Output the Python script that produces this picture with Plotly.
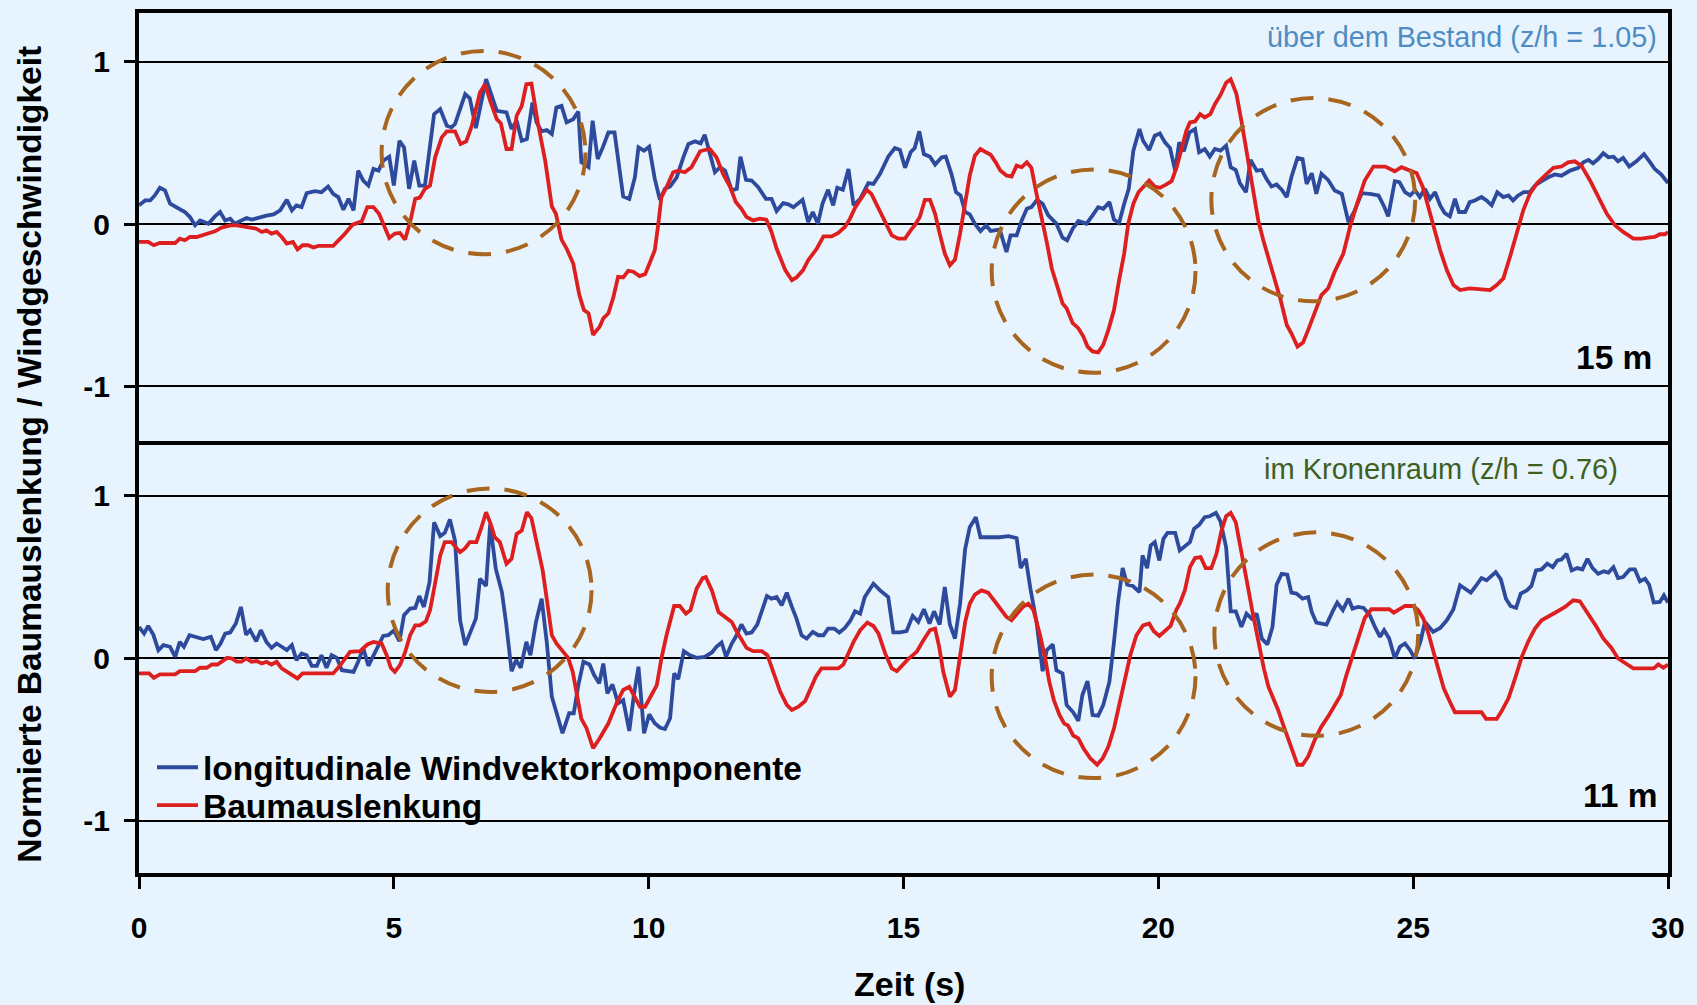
import plotly.graph_objects as go

# ---------------- data ----------------
# upper panel: above the stand (15 m)
top_wind_t = [0.0, 0.12, 0.22, 0.31, 0.41, 0.51, 0.61, 0.74, 0.90, 1.0, 1.1, 1.2, 1.36, 1.49, 1.59, 1.69, 1.79, 1.88, 1.98, 2.11,
              2.21, 2.37, 2.5, 2.64, 2.77, 2.9, 3.0, 3.09, 3.19, 3.29, 3.45, 3.58, 3.71, 3.81, 3.91, 4.01, 4.11, 4.21, 4.3, 4.4,
              4.5, 4.6, 4.7, 4.79, 4.91, 5.0, 5.11, 5.2, 5.3, 5.4, 5.5, 5.61, 5.79, 5.91, 6.04, 6.13, 6.2, 6.4, 6.49, 6.61,
              6.81, 7.02, 7.21, 7.31, 7.41, 7.51, 7.61, 7.72, 7.8, 7.9, 8.0, 8.1, 8.19, 8.29, 8.39, 8.52, 8.62, 8.68, 8.82, 8.90,
              9.0, 9.1, 9.21, 9.33, 9.5, 9.62, 9.73, 9.8, 9.91, 10.01, 10.12, 10.22, 10.32, 10.42, 10.55, 10.68, 10.78, 10.91, 11.02, 11.1,
              11.2, 11.3, 11.4, 11.5, 11.63, 11.73, 11.8, 11.91, 12.02, 12.15, 12.3, 12.41, 12.51, 12.64, 12.74, 12.84, 13.02, 13.13, 13.22, 13.32,
              13.41, 13.52, 13.62, 13.7, 13.81, 13.92, 14.02, 14.15, 14.31, 14.41, 14.54, 14.7, 14.83, 14.93, 15.03, 15.14, 15.22, 15.31, 15.4, 15.52,
              15.62, 15.75, 15.83, 15.94, 16.03, 16.12, 16.21, 16.30, 16.4, 16.51, 16.62, 16.71, 16.89, 17.02, 17.1, 17.22, 17.32, 17.42, 17.51, 17.62,
              17.73, 17.84, 18.0, 18.12, 18.21, 18.32, 18.43, 18.59, 18.71, 18.82, 18.92, 19.04, 19.13, 19.23, 19.33, 19.42, 19.51, 19.63, 19.70, 19.82,
              19.93, 20.03, 20.13, 20.23, 20.33, 20.41, 20.50, 20.61, 20.72, 20.80, 20.91, 21.01, 21.11, 21.22, 21.33, 21.42, 21.52, 21.6, 21.72, 21.81,
              21.93, 22.03, 22.12, 22.22, 22.32, 22.42, 22.52, 22.61, 22.73, 22.83, 22.91, 23.01, 23.1, 23.2, 23.33, 23.46, 23.6, 23.73, 23.84, 23.99,
              24.15, 24.32, 24.43, 24.51, 24.64, 24.73, 24.84, 24.94, 25.04, 25.13, 25.23, 25.33, 25.43, 25.53, 25.62, 25.72, 25.82, 25.9, 26.02, 26.11,
              26.21, 26.34, 26.44, 26.54, 26.65, 26.77, 26.87, 26.96, 27.06, 27.17, 27.29, 27.39, 27.52, 27.65, 27.78, 27.91, 28.08, 28.24, 28.34, 28.44,
              28.53, 28.63, 28.73, 28.83, 28.93, 29.02, 29.12, 29.24, 29.38, 29.53, 29.65, 29.74, 29.87, 30.0]
top_wind = [0.115, 0.145, 0.145, 0.176, 0.223, 0.207, 0.125, 0.104, 0.074, 0.043, -0.008, 0.022, 0.002, 0.047, 0.074, 0.022, 0.033, 0.002, 0.018, 0.037,
            0.027, 0.043, 0.051, 0.059, 0.084, 0.149, 0.084, 0.115, 0.104, 0.19, 0.202, 0.196, 0.231, 0.186, 0.166, 0.088, 0.155, 0.084, 0.329, 0.268,
            0.237, 0.339, 0.329, 0.39, 0.415, 0.237, 0.513, 0.472, 0.217, 0.39, 0.237, 0.237, 0.677, 0.708, 0.605, 0.595, 0.616, 0.80, 0.775, 0.591,
            0.892, 0.697, 0.687, 0.585, 0.636, 0.513, 0.523, 0.748, 0.626, 0.571, 0.579, 0.554, 0.718, 0.728, 0.626, 0.646, 0.693, 0.38, 0.35, 0.636,
            0.40, 0.472, 0.564, 0.564, 0.17, 0.155, 0.288, 0.472, 0.452, 0.476, 0.278, 0.149, 0.217, 0.231, 0.288, 0.411, 0.493, 0.509, 0.497, 0.55,
            0.431, 0.319, 0.35, 0.329, 0.207, 0.217, 0.415, 0.272, 0.268, 0.227, 0.155, 0.155, 0.08, 0.129, 0.121, 0.104, 0.149, 0.012, 0.074, 0.002,
            0.125, 0.211, 0.115, 0.223, 0.211, 0.339, 0.115, 0.155, 0.252, 0.247, 0.309, 0.415, 0.468, 0.456, 0.346, 0.442, 0.468, 0.571, 0.431, 0.415,
            0.366, 0.411, 0.415, 0.309, 0.196, 0.176, 0.074, 0.059, 0.002, -0.043, -0.008, -0.043, -0.035, -0.172, -0.07, -0.07, 0.022, 0.094, 0.104, 0.149,
            0.125, 0.053, 0.002, -0.084, -0.10, -0.029, 0.018, 0.002, 0.053, 0.104, 0.094, 0.135, 0.027, 0.006, 0.125, 0.217, 0.452, 0.585, 0.513, 0.456,
            0.544, 0.558, 0.503, 0.468, 0.329, 0.503, 0.448, 0.564, 0.585, 0.442, 0.462, 0.415, 0.462, 0.452, 0.483, 0.35, 0.333, 0.252, 0.196, 0.395,
            0.329, 0.333, 0.278, 0.231, 0.243, 0.211, 0.166, 0.288, 0.407, 0.40, 0.247, 0.313, 0.186, 0.309, 0.272, 0.207, 0.186, 0.012, 0.074, 0.19,
            0.186, 0.176, 0.108, 0.047, 0.264, 0.258, 0.196, 0.176, 0.207, 0.166, 0.217, 0.155, 0.196, 0.115, 0.067, 0.047, 0.155, 0.074, 0.074, 0.135,
            0.145, 0.166, 0.145, 0.115, 0.196, 0.166, 0.176, 0.145, 0.176, 0.196, 0.196, 0.237, 0.264, 0.288, 0.305, 0.298, 0.329, 0.346, 0.38, 0.395,
            0.374, 0.40, 0.436, 0.411, 0.415, 0.386, 0.407, 0.354, 0.386, 0.431, 0.38, 0.339, 0.305, 0.252]

top_tree_t = [0.0, 0.18, 0.29, 0.41, 0.71, 0.80, 0.90, 1.0, 1.13, 1.33, 1.49, 1.62, 1.79, 1.92, 2.05, 2.18, 2.3, 2.41, 2.5, 2.6,
              2.7, 2.8, 2.9, 3.02, 3.11, 3.21, 3.32, 3.42, 3.52, 3.81, 4.01, 4.19, 4.37, 4.48, 4.6, 4.71, 4.91, 5.02, 5.12, 5.22,
              5.32, 5.42, 5.51, 5.61, 5.71, 5.81, 5.94, 6.04, 6.2, 6.31, 6.42, 6.53, 6.69, 6.79, 6.89, 7.02, 7.1, 7.21, 7.31, 7.41,
              7.51, 7.6, 7.7, 7.83, 7.97, 8.1, 8.18, 8.29, 8.39, 8.52, 8.64, 8.73, 8.82, 8.91, 9.04, 9.11, 9.21, 9.31, 9.4, 9.5,
              9.6, 9.7, 9.82, 9.93, 10.03, 10.12, 10.19, 10.25, 10.35, 10.48, 10.58, 10.71, 10.84, 11.01, 11.1, 11.2, 11.33, 11.46, 11.6, 11.71,
              11.82, 11.92, 12.05, 12.18, 12.31, 12.41, 12.51, 12.68, 12.81, 12.9, 13.03, 13.13, 13.3, 13.43, 13.59, 13.72, 13.85, 13.95, 14.05, 14.15,
              14.28, 14.37, 14.51, 14.64, 14.77, 14.9, 15.03, 15.14, 15.22, 15.32, 15.42, 15.52, 15.62, 15.71, 15.81, 15.91, 16.01, 16.11, 16.21, 16.30,
              16.4, 16.51, 16.62, 16.71, 16.81, 16.9, 17.02, 17.12, 17.22, 17.32, 17.42, 17.51, 17.61, 17.71, 17.81, 17.91, 18.02, 18.12, 18.2, 18.32,
              18.43, 18.53, 18.61, 18.71, 18.82, 18.92, 19.02, 19.13, 19.23, 19.33, 19.41, 19.51, 19.61, 19.7, 19.82, 19.93, 20.03, 20.15, 20.26, 20.36,
              20.46, 20.55, 20.62, 20.72, 20.82, 20.91, 21.02, 21.11, 21.22, 21.33, 21.42, 21.53, 21.63, 21.73, 21.85, 21.96, 22.06, 22.18, 22.29, 22.40,
              22.52, 22.61, 22.73, 22.84, 22.94, 23.07, 23.2, 23.33, 23.46, 23.63, 23.76, 23.89, 24.05, 24.22, 24.45, 24.64, 24.77, 24.94, 25.07, 25.19,
              25.3, 25.39, 25.53, 25.66, 25.79, 25.92, 26.11, 26.34, 26.51, 26.64, 26.77, 26.9, 27.03, 27.16, 27.29, 27.43, 27.62, 27.75, 27.91, 28.04,
              28.17, 28.3, 28.47, 28.63, 28.8, 28.96, 29.12, 29.32, 29.48, 29.61, 29.74, 29.84, 29.94, 30.0]
top_tree = [-0.11, -0.11, -0.131, -0.117, -0.117, -0.09, -0.10, -0.08, -0.08, -0.059, -0.045, -0.022, -0.008, -0.008, -0.018, -0.022, -0.029, -0.049, -0.039, -0.059,
            -0.049, -0.08, -0.121, -0.11, -0.157, -0.131, -0.131, -0.145, -0.135, -0.135, -0.07, -0.004, 0.016, 0.104, 0.104, 0.063, -0.086, -0.059, -0.055, -0.096,
            0.012, 0.155, 0.162, 0.217, 0.237, 0.411, 0.534, 0.571, 0.571, 0.493, 0.509, 0.605, 0.81, 0.861, 0.759, 0.646, 0.62, 0.462, 0.462, 0.667,
            0.728, 0.861, 0.865, 0.616, 0.39, 0.108, 0.063, -0.096, -0.151, -0.243, -0.438, -0.53, -0.55, -0.683, -0.632, -0.581, -0.55, -0.448, -0.325, -0.329,
            -0.288, -0.294, -0.321, -0.309, -0.233, -0.162, 0.002, 0.166, 0.227, 0.319, 0.329, 0.319, 0.35, 0.448, 0.456, 0.462, 0.411, 0.309, 0.227, 0.135,
            0.094, 0.043, 0.022, 0.033, 0.027, -0.049, -0.151, -0.284, -0.346, -0.329, -0.284, -0.223, -0.151, -0.076, -0.076, -0.055, -0.018, 0.033, 0.10, 0.145,
            0.211, 0.186, 0.094, 0.002, -0.07, -0.09, -0.09, -0.039, -0.008, 0.043, 0.149, 0.149, 0.063, -0.059, -0.182, -0.254, -0.219, -0.059, 0.135, 0.299,
            0.421, 0.462, 0.442, 0.427, 0.38, 0.329, 0.299, 0.292, 0.36, 0.35, 0.38, 0.346, 0.186, 0.043, -0.11, -0.274, -0.387, -0.489, -0.519, -0.611,
            -0.642, -0.693, -0.755, -0.785, -0.791, -0.744, -0.652, -0.53, -0.346, -0.182, 0.002, 0.125, 0.196, 0.227, 0.268, 0.231, 0.223, 0.243, 0.264, 0.35,
            0.462, 0.575, 0.626, 0.632, 0.677, 0.657, 0.677, 0.738, 0.795, 0.871, 0.892, 0.804, 0.636, 0.452, 0.247, 0.022, -0.10, -0.223, -0.346, -0.468,
            -0.622, -0.673, -0.755, -0.73, -0.652, -0.55, -0.438, -0.397, -0.294, -0.182, -0.018, 0.115, 0.268, 0.354, 0.354, 0.325, 0.35, 0.329, 0.313, 0.227,
            0.104, -0.008, -0.162, -0.284, -0.376, -0.407, -0.397, -0.403, -0.407, -0.376, -0.335, -0.202, -0.059, 0.084, 0.186, 0.252, 0.309, 0.346, 0.354, 0.38,
            0.386, 0.36, 0.268, 0.166, 0.063, -0.008, -0.049, -0.09, -0.09, -0.084, -0.08, -0.063, -0.063, -0.049]

# lower panel: in the crown space (11 m)
bot_wind_t = [0.0, 0.1, 0.18, 0.28, 0.38, 0.48, 0.61, 0.71, 0.8, 0.88, 0.99, 1.13, 1.26, 1.41, 1.51, 1.6, 1.69, 1.79, 1.9, 2.0,
              2.1, 2.18, 2.3, 2.39, 2.5, 2.6, 2.7, 2.8, 2.9, 3.0, 3.09, 3.19, 3.29, 3.39, 3.49, 3.58, 3.68, 3.78, 3.88, 3.98,
              4.09, 4.21, 4.3, 4.4, 4.5, 4.6, 4.7, 4.79, 4.89, 5.0, 5.11, 5.2, 5.32, 5.42, 5.5, 5.59, 5.7, 5.79, 5.91, 6.0,
              6.1, 6.2, 6.3, 6.4, 6.49, 6.61, 6.69, 6.81, 6.89, 7.0, 7.12, 7.2, 7.31, 7.4, 7.49, 7.6, 7.68, 7.79, 7.9, 8.0,
              8.1, 8.19, 8.31, 8.44, 8.53, 8.62, 8.72, 8.84, 8.93, 9.03, 9.11, 9.19, 9.29, 9.4, 9.5, 9.62, 9.71, 9.8, 9.91, 10.01,
              10.12, 10.22, 10.32, 10.42, 10.5, 10.58, 10.69, 10.81, 10.94, 11.1, 11.24, 11.33, 11.43, 11.52, 11.63, 11.71, 11.82, 11.92, 12.02, 12.13,
              12.22, 12.32, 12.41, 12.51, 12.61, 12.71, 12.81, 12.90, 13.0, 13.1, 13.22, 13.33, 13.43, 13.52, 13.64, 13.74, 13.85, 13.95, 14.05, 14.15,
              14.24, 14.41, 14.54, 14.7, 14.8, 14.93, 15.06, 15.18, 15.29, 15.4, 15.51, 15.6, 15.71, 15.81, 15.91, 16.01, 16.11, 16.21, 16.30, 16.42,
              16.51, 16.70, 16.89, 17.06, 17.22, 17.30, 17.40, 17.49, 17.61, 17.73, 17.81, 17.93, 18.0, 18.12, 18.2, 18.33, 18.43, 18.51, 18.61, 18.71,
              18.82, 18.92, 19.04, 19.13, 19.21, 19.30, 19.39, 19.5, 19.63, 19.69, 19.78, 19.85, 19.93, 20.02, 20.1, 20.18, 20.33, 20.42, 20.52, 20.62,
              20.70, 20.80, 20.91, 21.01, 21.13, 21.22, 21.33, 21.42, 21.52, 21.63, 21.73, 21.83, 21.93, 22.03, 22.14, 22.24, 22.32, 22.42, 22.53, 22.61,
              22.71, 22.83, 22.94, 23.01, 23.1, 23.3, 23.42, 23.51, 23.62, 23.73, 23.81, 23.92, 24.03, 24.15, 24.25, 24.35, 24.43, 24.53, 24.64, 24.74,
              24.84, 24.94, 25.03, 25.15, 25.23, 25.39, 25.53, 25.66, 25.79, 25.92, 26.02, 26.13, 26.23, 26.34, 26.44, 26.54, 26.62, 26.72, 26.82, 26.91,
              27.02, 27.11, 27.23, 27.32, 27.41, 27.52, 27.63, 27.74, 27.83, 27.91, 28.01, 28.11, 28.22, 28.32, 28.42, 28.52, 28.63, 28.74, 28.83, 28.93,
              29.02, 29.12, 29.25, 29.35, 29.45, 29.55, 29.63, 29.72, 29.84, 29.92, 30.0]
bot_wind = [0.194, 0.153, 0.20, 0.147, 0.051, 0.082, 0.072, 0.01, 0.102, 0.072, 0.143, 0.133, 0.119, 0.133, 0.051, 0.092, 0.153, 0.16, 0.215, 0.317,
            0.147, 0.174, 0.106, 0.174, 0.102, 0.065, 0.092, 0.072, 0.051, 0.082, -0.01, 0.031, 0.02, -0.045, -0.045, 0.02, -0.057, 0.02, 0.004, -0.072,
            -0.078, -0.082, -0.02, 0.065, -0.045, 0.02, 0.082, 0.139, 0.143, 0.172, 0.106, 0.266, 0.307, 0.311, 0.384, 0.317, 0.47, 0.838, 0.753, 0.773,
            0.855, 0.726, 0.235, 0.082, 0.153, 0.245, 0.491, 0.446, 0.828, 0.552, 0.409, 0.225, -0.078, -0.01, -0.057, 0.102, 0.02, 0.225, 0.368, 0.102,
            -0.235, -0.327, -0.46, -0.337, -0.337, -0.164, -0.02, -0.037, -0.102, -0.153, -0.031, -0.215, -0.16, -0.276, -0.256, -0.446, -0.225, -0.051, -0.46, -0.344,
            -0.399, -0.425, -0.434, -0.368, -0.092, -0.127, 0.045, 0.02, 0.004, 0.01, 0.037, 0.072, 0.098, 0.01, 0.092, 0.133, 0.209, 0.153, 0.16, 0.209,
            0.286, 0.384, 0.368, 0.378, 0.327, 0.405, 0.317, 0.245, 0.143, 0.123, 0.164, 0.143, 0.143, 0.184, 0.184, 0.16, 0.188, 0.229, 0.29, 0.276,
            0.378, 0.46, 0.419, 0.378, 0.16, 0.16, 0.168, 0.262, 0.225, 0.303, 0.215, 0.29, 0.209, 0.44, 0.209, 0.123, 0.337, 0.675, 0.808, 0.869,
            0.746, 0.746, 0.746, 0.753, 0.74, 0.556, 0.613, 0.429, 0.225, -0.078, 0.051, 0.086, -0.072, -0.092, -0.286, -0.331, -0.384, -0.225, -0.139, -0.348,
            -0.352, -0.286, -0.143, 0.102, 0.348, 0.556, 0.454, 0.446, 0.409, 0.634, 0.556, 0.695, 0.716, 0.603, 0.736, 0.773, 0.773, 0.665, 0.691, 0.716,
            0.798, 0.822, 0.869, 0.875, 0.896, 0.843, 0.685, 0.29, 0.29, 0.194, 0.276, 0.245, 0.276, 0.123, 0.086, 0.194, 0.454, 0.521, 0.515, 0.405,
            0.399, 0.368, 0.378, 0.286, 0.221, 0.209, 0.29, 0.344, 0.297, 0.368, 0.307, 0.317, 0.311, 0.266, 0.194, 0.133, 0.174, 0.123, 0.0, 0.072,
            0.092, 0.051, 0.0, 0.112, 0.225, 0.164, 0.188, 0.235, 0.303, 0.45, 0.429, 0.405, 0.446, 0.495, 0.481, 0.511, 0.532, 0.487, 0.368, 0.323,
            0.311, 0.399, 0.419, 0.446, 0.542, 0.548, 0.583, 0.562, 0.603, 0.609, 0.644, 0.542, 0.556, 0.548, 0.613, 0.556, 0.521, 0.536, 0.528, 0.562,
            0.495, 0.501, 0.548, 0.548, 0.474, 0.491, 0.454, 0.344, 0.348, 0.389, 0.344]

bot_tree_t = [0.0, 0.2, 0.29, 0.41, 0.71, 0.8, 1.1, 1.2, 1.33, 1.43, 1.54, 1.62, 1.73, 1.82, 1.92, 2.01, 2.1, 2.21, 2.31, 2.41,
              2.5, 2.6, 2.7, 2.8, 2.96, 3.11, 3.21, 3.81, 3.94, 4.14, 4.34, 4.48, 4.6, 4.76, 4.86, 4.94, 5.02, 5.12, 5.22, 5.32,
              5.42, 5.51, 5.63, 5.71, 5.79, 5.91, 6.0, 6.13, 6.3, 6.4, 6.49, 6.62, 6.72, 6.81, 6.9, 6.98, 7.08, 7.21, 7.31, 7.41,
              7.51, 7.61, 7.7, 7.8, 7.92, 8.0, 8.1, 8.19, 8.31, 8.42, 8.51, 8.59, 8.68, 8.78, 8.91, 9.04, 9.21, 9.37, 9.5, 9.62,
              9.73, 9.83, 9.93, 10.04, 10.16, 10.25, 10.35, 10.5, 10.61, 10.73, 10.82, 10.94, 11.06, 11.12, 11.24, 11.37, 11.5, 11.63, 11.73, 11.82,
              11.92, 12.05, 12.22, 12.33, 12.45, 12.58, 12.71, 12.81, 12.94, 13.07, 13.18, 13.28, 13.39, 13.52, 13.72, 13.82, 13.92, 14.02, 14.15, 14.29,
              14.41, 14.51, 14.64, 14.77, 14.87, 14.96, 15.09, 15.2, 15.26, 15.39, 15.52, 15.62, 15.7, 15.78, 15.91, 16.01, 16.11, 16.21, 16.30, 16.40,
              16.53, 16.66, 16.79, 16.92, 17.02, 17.12, 17.22, 17.34, 17.45, 17.55, 17.68, 17.78, 17.86, 17.95, 18.06, 18.15, 18.23, 18.33, 18.43, 18.53,
              18.66, 18.80, 18.91, 19.02, 19.13, 19.23, 19.34, 19.45, 19.57, 19.70, 19.82, 19.91, 20.02, 20.16, 20.24, 20.35, 20.42, 20.52, 20.62, 20.72,
              20.83, 20.93, 21.04, 21.14, 21.24, 21.33, 21.42, 21.52, 21.63, 21.74, 21.86, 21.98, 22.07, 22.16, 22.27, 22.35, 22.45, 22.57, 22.73, 22.83,
              22.94, 23.07, 23.2, 23.33, 23.43, 23.58, 23.69, 23.82, 23.94, 24.05, 24.18, 24.35, 24.53, 24.62, 24.73, 24.84, 25.0, 25.1, 25.2, 25.3,
              25.39, 25.49, 25.6, 25.72, 25.82, 25.98, 26.18, 26.34, 26.43, 26.64, 26.73, 26.87, 27.0, 27.13, 27.26, 27.39, 27.52, 27.65, 27.81, 27.98,
              28.14, 28.27, 28.37, 28.47, 28.6, 28.73, 28.89, 29.02, 29.19, 29.32, 29.58, 29.72, 29.81, 29.91, 30.0]
bot_tree = [-0.092, -0.092, -0.119, -0.098, -0.098, -0.078, -0.078, -0.057, -0.057, -0.037, -0.037, -0.02, 0.004, 0.0, -0.02, -0.02, 0.0, -0.02, -0.016, -0.031,
            -0.02, -0.037, -0.02, -0.061, -0.092, -0.123, -0.092, -0.092, -0.045, 0.041, 0.045, 0.086, 0.102, 0.092, 0.02, -0.057, -0.082, -0.041, 0.037, 0.143,
            0.204, 0.204, 0.229, 0.297, 0.429, 0.634, 0.716, 0.716, 0.654, 0.679, 0.716, 0.716, 0.808, 0.90, 0.828, 0.746, 0.716, 0.583, 0.613, 0.767,
            0.787, 0.90, 0.863, 0.706, 0.542, 0.368, 0.143, 0.092, 0.045, 0.004, -0.082, -0.215, -0.372, -0.429, -0.552, -0.491, -0.399, -0.276, -0.194, -0.174,
            -0.235, -0.297, -0.297, -0.235, -0.164, 0.0, 0.143, 0.323, 0.323, 0.276, 0.297, 0.429, 0.495, 0.501, 0.419, 0.286, 0.256, 0.225, 0.164, 0.112,
            0.065, 0.045, 0.045, 0.02, -0.082, -0.204, -0.286, -0.317, -0.297, -0.262, -0.184, -0.112, -0.061, -0.061, -0.061, -0.037, 0.037, 0.102, 0.174, 0.221,
            0.20, 0.153, 0.031, -0.061, -0.078, -0.045, -0.004, 0.025, 0.041, 0.112, 0.174, 0.184, 0.072, -0.082, -0.235, -0.194, 0.0, 0.225, 0.337, 0.393,
            0.419, 0.405, 0.352, 0.297, 0.256, 0.235, 0.27, 0.317, 0.337, 0.297, 0.143, 0.0, -0.143, -0.256, -0.348, -0.399, -0.413, -0.474, -0.491, -0.552,
            -0.613, -0.654, -0.613, -0.542, -0.429, -0.286, -0.127, 0.02, 0.143, 0.204, 0.215, 0.168, 0.139, 0.174, 0.20, 0.297, 0.337, 0.419, 0.562, 0.618,
            0.624, 0.556, 0.556, 0.644, 0.787, 0.875, 0.896, 0.838, 0.665, 0.47, 0.266, 0.072, -0.061, -0.174, -0.256, -0.317, -0.409, -0.511, -0.654, -0.654,
            -0.603, -0.501, -0.419, -0.358, -0.307, -0.225, -0.102, 0.025, 0.147, 0.249, 0.303, 0.303, 0.303, 0.282, 0.303, 0.323, 0.323, 0.297, 0.245, 0.153,
            0.051, -0.061, -0.184, -0.266, -0.331, -0.331, -0.331, -0.331, -0.372, -0.372, -0.327, -0.245, -0.123, 0.01, 0.106, 0.184, 0.235, 0.256, 0.286, 0.317,
            0.358, 0.352, 0.307, 0.256, 0.194, 0.123, 0.065, 0.0, -0.031, -0.061, -0.061, -0.061, -0.037, -0.057, -0.037]

# highlighted episodes (centre time, centre value) for each panel
top_highlights = [(6.76, 0.44), (18.73, -0.29), (23.04, 0.15)]
bot_highlights = [(6.88, 0.42), (18.73, -0.11), (23.1, 0.15)]
highlight_rx, highlight_ry = 2.0, 0.626

x_ticks = [0, 5, 10, 15, 20, 25, 30]
y_ticks = [-1, 0, 1]
y_ticktext = ["-1", "0", "1"]

# ---------------- styling ----------------
BG = "#E8F4FD"
BLUE = "#2E4A9C"
RED = "#DE1F1F"
BROWN = "#A8651F"
FONT = "Liberation Sans, Arial, sans-serif"
LW = 3.8

fig = go.Figure()

fig.add_trace(go.Scatter(x=bot_wind_t, y=bot_wind, mode="lines", line=dict(color=BLUE, width=LW),
                         name="longitudinale Windvektorkomponente", legend="legend", xaxis="x", yaxis="y"))
fig.add_trace(go.Scatter(x=bot_tree_t, y=bot_tree, mode="lines", line=dict(color=RED, width=LW),
                         name="Baumauslenkung", legend="legend2", xaxis="x", yaxis="y"))
fig.add_trace(go.Scatter(x=top_wind_t, y=top_wind, mode="lines", line=dict(color=BLUE, width=LW),
                         name="longitudinale Windvektorkomponente", showlegend=False, xaxis="x2", yaxis="y2"))
fig.add_trace(go.Scatter(x=top_tree_t, y=top_tree, mode="lines", line=dict(color=RED, width=LW),
                         name="Baumauslenkung", showlegend=False, xaxis="x2", yaxis="y2"))

shapes = []
for (cx, cy) in top_highlights:
    shapes.append(dict(type="circle", xref="x2", yref="y2", x0=cx - highlight_rx, x1=cx + highlight_rx,
                       y0=cy - highlight_ry, y1=cy + highlight_ry, layer="above",
                       line=dict(color=BROWN, width=4, dash="23px,15px")))
for (cx, cy) in bot_highlights:
    shapes.append(dict(type="circle", xref="x", yref="y", x0=cx - highlight_rx, x1=cx + highlight_rx,
                       y0=cy - highlight_ry, y1=cy + highlight_ry, layer="above",
                       line=dict(color=BROWN, width=4, dash="23px,15px")))

split = 0.5023
legend_font = dict(size=33.5, family=FONT, weight="bold", color="black")
tick_font = dict(size=30, family=FONT, weight="bold", color="black")

fig.update_layout(
    width=1697, height=1005,
    margin=dict(l=139, r=29, t=9, b=132),
    paper_bgcolor=BG, plot_bgcolor=BG,
    font=dict(family=FONT, color="black"),
    showlegend=True,
    legend=dict(x=0.0085, y=0.1227, xanchor="left", yanchor="middle", bgcolor="rgba(0,0,0,0)",
                itemwidth=41, font=legend_font),
    legend2=dict(x=0.0085, y=0.0787, xanchor="left", yanchor="middle", bgcolor="rgba(0,0,0,0)",
                 itemwidth=41, font=legend_font),
    xaxis=dict(domain=[0, 1], anchor="y", range=[0, 30], tickvals=x_ticks, ticks="outside", ticklen=12,
               tickwidth=2.5, tickcolor="black", showgrid=False, ticklabelstandoff=13, tickfont=tick_font,
               showline=True, linewidth=4, linecolor="black", mirror=False, zeroline=False),
    xaxis2=dict(domain=[0, 1], anchor="y2", range=[0, 30], matches="x", showticklabels=False, ticks="",
                showgrid=False, showline=True, linewidth=4, linecolor="black", mirror=True, zeroline=False),
    yaxis=dict(domain=[0, split], anchor="x", range=[-1.32, 1.338], tickvals=y_ticks, ticktext=y_ticktext,
               ticks="outside", ticklen=11, tickwidth=2.5, tickcolor="black", showgrid=True, gridcolor="black",
               gridwidth=2, ticklabelstandoff=8, tickfont=tick_font,
               showline=True, linewidth=4, linecolor="black", mirror=True, zeroline=False),
    yaxis2=dict(domain=[split, 1], anchor="x2", range=[-1.337, 1.30], tickvals=y_ticks, ticktext=y_ticktext,
                ticks="outside", ticklen=11, tickwidth=2.5, tickcolor="black", showgrid=True, gridcolor="black",
                gridwidth=2, ticklabelstandoff=8, tickfont=tick_font,
                showline=True, linewidth=4, linecolor="black", mirror=True, zeroline=False),
    shapes=shapes,
    annotations=[
        dict(text="Normierte Baumauslenkung / Windgeschwindigkeit", xref="paper", yref="paper",
             x=-0.0716, y=0.487, xanchor="center", yanchor="middle", textangle=-90, showarrow=False,
             font=dict(size=33.5, family=FONT, weight="bold", color="black")),
        dict(text="Zeit (s)", xref="paper", yref="paper", x=0.504, y=-0.1296, xanchor="center",
             yanchor="middle", showarrow=False, font=dict(size=34, family=FONT, weight="bold", color="black")),
        dict(text="über dem Bestand (z/h = 1.05)", xref="paper", yref="paper", x=0.994, y=0.9716,
             xanchor="right", yanchor="middle", showarrow=False,
             font=dict(size=28.8, family=FONT, color="#4F8CC4")),
        dict(text="im Kronenraum (z/h = 0.76)", xref="paper", yref="paper", x=0.9686, y=0.4693,
             xanchor="right", yanchor="middle", showarrow=False,
             font=dict(size=29, family=FONT, color="#3F5F1F")),
        dict(text="15 m", xref="paper", yref="paper", x=0.9911, y=0.5997, xanchor="right", yanchor="middle",
             showarrow=False, font=dict(size=33.5, family=FONT, weight="bold", color="black")),
        dict(text="11 m", xref="paper", yref="paper", x=0.9945, y=0.0903, xanchor="right", yanchor="middle",
             showarrow=False, font=dict(size=33.5, family=FONT, weight="bold", color="black")),
    ],
)

fig.write_html("out.html", config={"displayModeBar": False},
               post_script="document.body.style.margin='0';document.body.style.overflow='hidden';")
